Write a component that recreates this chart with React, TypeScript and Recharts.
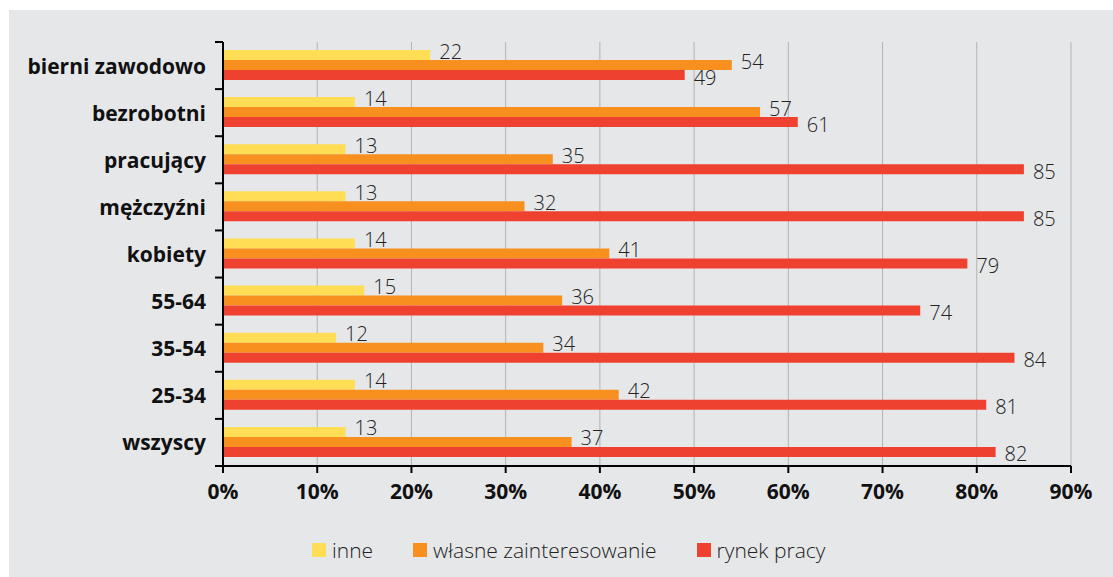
import React from 'react';
import { BarChart, Bar, XAxis, YAxis, CartesianGrid, Legend, LabelList } from 'recharts';

const categories = ['bierni zawodowo', 'bezrobotni', 'pracujący', 'mężczyźni', 'kobiety', '55-64', '35-54', '25-34', 'wszyscy'];
const inne = [22, 14, 13, 13, 14, 15, 12, 14, 13];
const wlasne = [54, 57, 35, 32, 41, 36, 34, 42, 37];
const rynek = [49, 61, 85, 85, 79, 74, 84, 81, 82];
const xTicks = [0, 10, 20, 30, 40, 50, 60, 70, 80, 90];
const seriesNames = ['inne', 'własne zainteresowanie', 'rynek pracy'];
const seriesKeys = ['inne', 'wlasne', 'rynek'];
const colors = ['#FFDD55', '#F7901E', '#EF4130'];

const data = categories.map((c, i) => ({ cat: c, inne: inne[i], wlasne: wlasne[i], rynek: rynek[i] }));

const FONT = '"Open Sans", "DejaVu Sans", sans-serif';
const TICK_SIZE = 6;
const TICK_MARGIN = 11;
const MARK_LEN = 8;

function makeLabel(dy: number) {
  return (props: any) => {
    const { x, y, width, height, value } = props;
    return (
      <text
        x={Number(x) + Number(width) + 9}
        y={Number(y) + Number(height) / 2 + dy}
        dominantBaseline="central"
        fontFamily={FONT}
        fontSize={20}
        fontWeight={300}
        fill="#222"
      >
        {value}
      </text>
    );
  };
}
const labelDy = [-4, -4, 2];

const CategoryTick = (props: any) => {
  const { x, y, payload, index, visibleTicksCount } = props;
  const half = payload && typeof payload.offset === 'number' && payload.offset > 0 ? payload.offset : 0;
  const axisX = x + TICK_SIZE + TICK_MARGIN;
  const isLast = index === visibleTicksCount - 1;
  return (
    <g>
      <line x1={axisX - MARK_LEN} x2={axisX} y1={y - half} y2={y - half} stroke="#000" strokeWidth={2} />
      {isLast && <line x1={axisX - MARK_LEN} x2={axisX} y1={y + half} y2={y + half} stroke="#000" strokeWidth={2} />}
      <text x={x} y={y} textAnchor="end" dominantBaseline="central" fontFamily={FONT} fontSize={21} fontWeight={700} fill="#111">
        {payload.value}
      </text>
    </g>
  );
};

const renderLegend = () => (
  <div style={{ display: 'flex', alignItems: 'center', fontFamily: FONT, fontSize: 21, fontWeight: 300, color: '#222', whiteSpace: 'nowrap' }}>
    {seriesNames.map((n, i) => (
      <div key={n} style={{ display: 'flex', alignItems: 'center', marginRight: 40 }}>
        <span style={{ width: 14, height: 14, background: colors[i], marginRight: 6, display: 'inline-block' }} />
        {n}
      </div>
    ))}
  </div>
);

export default function App() {
  return (
    <div style={{ position: 'fixed', left: 9, top: 10, width: 1104, height: 567, background: '#e6e7e9' }}>
      <BarChart
        width={1104}
        height={567}
        data={data}
        layout="vertical"
        margin={{ top: 32, right: 42, left: 0, bottom: 71 }}
        barCategoryGap="17%"
        barGap={0}
      >
        <CartesianGrid horizontal={false} stroke="#b3b3b3" strokeWidth={1} />
        <XAxis
          type="number"
          domain={[0, 90]}
          ticks={xTicks}
          tickFormatter={(v: number) => `${v}%`}
          axisLine={{ stroke: '#000', strokeWidth: 2 }}
          tickLine={{ stroke: '#000', strokeWidth: 2 }}
          tickSize={7}
          tickMargin={11}
          height={40}
          tick={{ fontFamily: FONT, fontSize: 21, fontWeight: 700, fill: '#111' }}
        />
        <YAxis
          type="category"
          dataKey="cat"
          width={214}
          axisLine={{ stroke: '#000', strokeWidth: 2 }}
          tickLine={false}
          tickSize={TICK_SIZE}
          tickMargin={TICK_MARGIN}
          interval={0}
          tick={<CategoryTick />}
        />
        {seriesKeys.map((k, i) => (
          <Bar key={k} dataKey={k} name={seriesNames[i]} fill={colors[i]} isAnimationActive={false}>
            <LabelList dataKey={k} content={makeLabel(labelDy[i])} />
          </Bar>
        ))}
        <Legend
          layout="horizontal"
          verticalAlign="middle"
          align="center"
          content={renderLegend}
          wrapperStyle={{ top: 526, left: 303, width: 780, height: 28 }}
        />
      </BarChart>
    </div>
  );
}
